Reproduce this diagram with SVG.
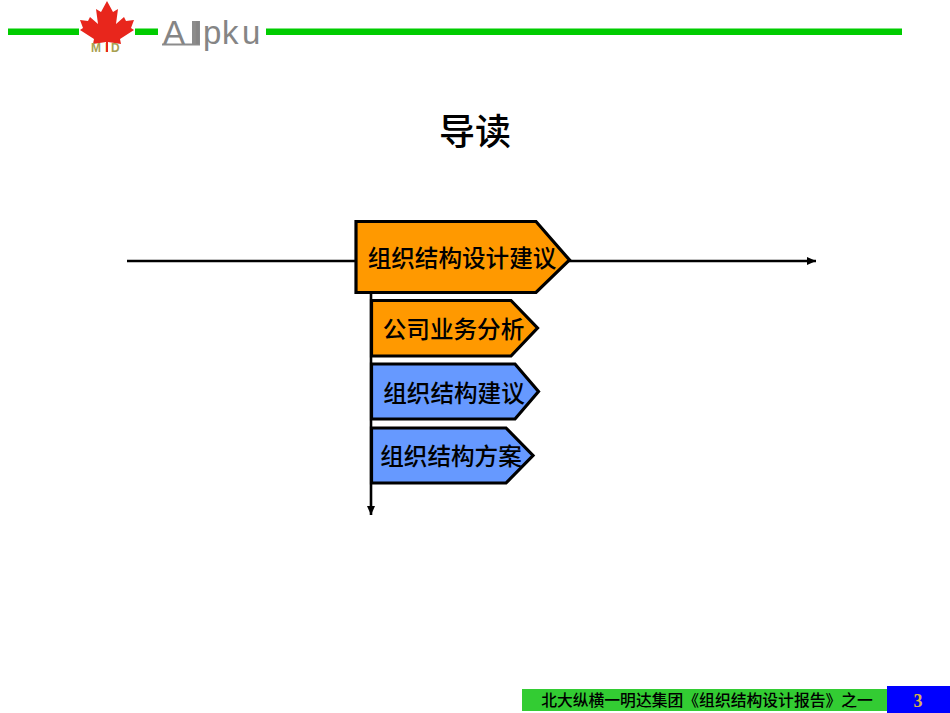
<svg xmlns="http://www.w3.org/2000/svg" width="950" height="713" viewBox="0 0 950 713">
<defs>
<marker id="arrow" markerUnits="userSpaceOnUse" markerWidth="10" markerHeight="10" refX="9" refY="5" orient="auto"><path d="M0,1 L9,5 L0,9 Z" fill="#000"/></marker>
</defs>
<style>
.cjk{font-family:"Noto Sans CJK SC","Liberation Sans",sans-serif;fill:#000;text-anchor:middle}
.label{font-size:23.6px;font-weight:500}
.shape{stroke:#000;stroke-width:3.2}
.or{fill:#ff9900}
.bl{fill:#6699ff}
.conn{stroke:#000;stroke-width:2.6;fill:none;marker-end:url(#arrow)}
.bar{fill:#00cc00}
</style>
<rect width="950" height="713" fill="#fff"/>
<g id="logo">
<rect class="bar" x="8" y="28.500" width="71" height="6.500"/>
<rect class="bar" x="135" y="28.500" width="23" height="6.500"/>
<rect class="bar" x="266" y="28.500" width="636" height="6.500"/>
<polygon fill="#e8261c" points="107,1 113,12 118,9 116,24 124,17 126,21 134,20 131,28 134,30 120,39 121,44 108,42 108,47 106,47 106,42 93,44 94,39 80,30 83,28 80,20 88,21 90,17 98,24 96,9 101,12"/>
<text x="91 105 111" y="52" font-family="Liberation Sans,sans-serif" font-size="12" font-weight="bold" fill="#a8a050">MID</text>
<rect x="106" y="42" width="2" height="10" fill="#e8261c"/>
<rect x="192" y="21" width="8" height="23" fill="#8c8c8c"/>
<rect x="162" y="43.500" width="38" height="2" fill="#8c8c8c"/>
<text x="163 193 203 222 242" y="44" font-family="Liberation Sans,sans-serif" font-size="33" fill="#858585">AIpku</text>
</g>
<g id="title"><text class="cjk" x="475" y="145" font-size="36px" font-weight="500">导读</text></g>
<g id="connectors">
<line class="conn" x1="127" y1="261" x2="816" y2="261"/>
<line class="conn" x1="371" y1="293" x2="371" y2="515"/>
</g>
<g id="node-1">
<polygon class="shape or" points="356,221.500 536,221.500 569.500,260 536,292.500 356,292.500"/>
<text class="cjk label" x="462" y="267">组织结构设计建议</text>
</g>
<g id="node-2">
<polygon class="shape or" points="371.500,300.500 511,300.500 537.500,328 511,356 371.500,356"/>
<text class="cjk label" x="453.500" y="338">公司业务分析</text>
</g>
<g id="node-3">
<polygon class="shape bl" points="371.500,364 515,364 538.500,391.500 515,419 371.500,419"/>
<text class="cjk label" x="454" y="402">组织结构建议</text>
</g>
<g id="node-4">
<polygon class="shape bl" points="371.500,428 506,428 533,455.500 506,483 371.500,483"/>
<text class="cjk label" x="451" y="465">组织结构方案</text>
</g>
<g id="footer">
<rect x="522" y="689" width="365" height="22" fill="#33cc33"/>
<rect x="887" y="686" width="63" height="27" fill="#0000ff"/>
<text class="cjk" x="707" y="705.500" font-size="15.800" font-weight="500">北大纵横一明达集团《组织结构设计报告》之一</text>
<text x="918" y="707" font-family="Liberation Serif,serif" font-size="18" font-weight="bold" fill="#d9b24c" text-anchor="middle">3</text>
</g>
</svg>
